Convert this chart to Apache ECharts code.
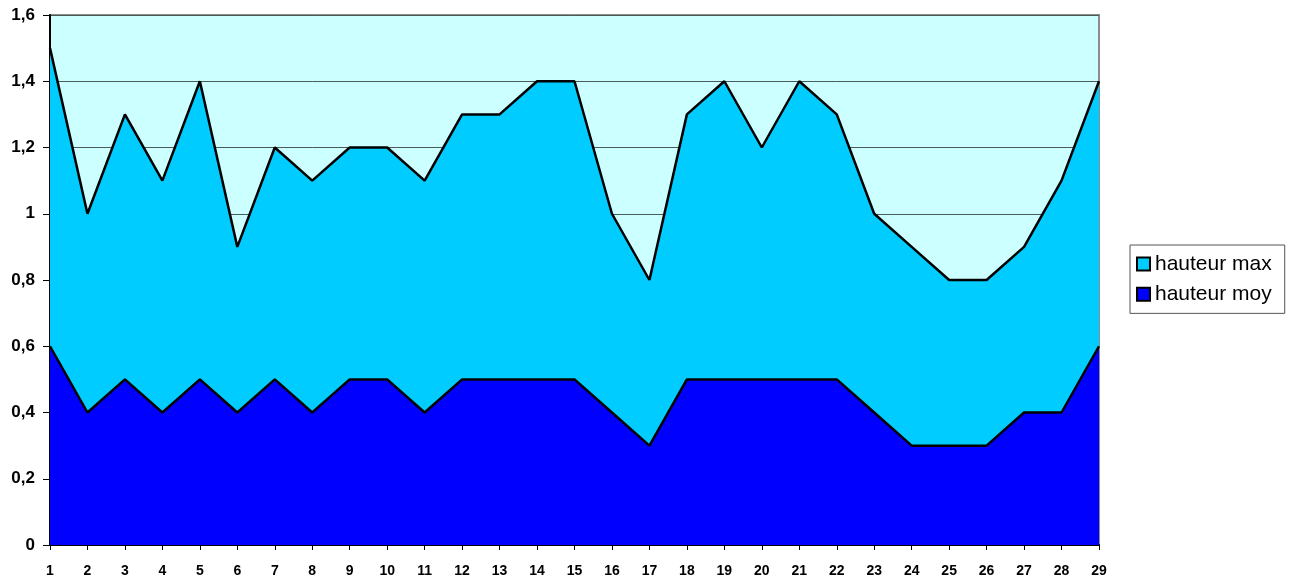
<style>body { margin: 0; }</style>
<div id="chart" style="width: 1292px; height: 576px;"></div>
<script src="https://cdn.jsdelivr.net/npm/echarts@6/dist/echarts.min.js"></script>
<script>
const days = ['1','2','3','4','5','6','7','8','9','10','11','12','13','14','15','16','17','18','19','20','21','22','23','24','25','26','27','28','29'];
const hauteurMax = [1.5,1.0,1.3,1.1,1.4,0.9,1.2,1.1,1.2,1.2,1.1,1.3,1.3,1.4,1.4,1.0,0.8,1.3,1.4,1.2,1.4,1.3,1.0,0.9,0.8,0.8,0.9,1.1,1.4];
const hauteurMoy = [0.6,0.4,0.5,0.4,0.5,0.4,0.5,0.4,0.5,0.5,0.4,0.5,0.5,0.5,0.5,0.4,0.3,0.5,0.5,0.5,0.5,0.5,0.4,0.3,0.3,0.3,0.4,0.4,0.6];

const chart = echarts.init(document.getElementById('chart'));

const option = {
  animation: false,
  backgroundColor: '#fff',
  grid: {
    left: 50, right: 193, top: 15, bottom: 31,
    outerBoundsMode: 'none',
    containLabel: false,
    show: true,
    backgroundColor: '#CCFFFF',
    borderColor: '#8c8c8c',
    borderWidth: 2
  },
  legend: {
    orient: 'vertical',
    left: 1130,
    top: 245,
    padding: [1, 13, 1, 6],
    itemGap: -6,
    itemWidth: 13,
    itemHeight: 13,
    borderColor: '#555',
    borderWidth: 1,
    backgroundColor: '#fff',
    textStyle: { fontFamily: 'Liberation Sans, Arial', fontSize: 21, color: '#000' },
    data: [
      { name: 'hauteur max', icon: 'rect', itemStyle: { color: '#00CCFF', borderColor: '#000', borderWidth: 2 } },
      { name: 'hauteur moy', icon: 'rect', itemStyle: { color: '#0000FF', borderColor: '#000', borderWidth: 2 } }
    ]
  },
  xAxis: {
    type: 'category',
    data: days,
    boundaryGap: false,
    axisLine: { lineStyle: { color: '#000', width: 2 } },
    axisTick: { show: true, alignWithLabel: true, length: 5, lineStyle: { color: '#000' } },
    axisLabel: {
      interval: 0,
      margin: 14,
      color: '#000',
      fontWeight: 'bold',
      fontSize: 14,
      fontFamily: 'Liberation Sans Narrow, Liberation Sans, Arial'
    },
    splitLine: { show: false }
  },
  yAxis: {
    type: 'value',
    min: 0,
    max: 1.6,
    interval: 0.2,
    axisLine: { show: true, lineStyle: { color: '#000', width: 2 } },
    axisTick: { show: true, length: 7, lineStyle: { color: '#000' } },
    axisLabel: {
      margin: 15,
      color: '#000',
      fontWeight: 'bold',
      fontSize: 17,
      fontFamily: 'Liberation Sans, Arial',
      formatter: function (v) { return String(Math.round(v * 10) / 10).replace('.', ','); }
    },
    splitLine: { show: true, lineStyle: { color: '#4a5a5a', width: 1 } }
  },
  series: [
    {
      name: 'hauteur max',
      type: 'line',
      data: hauteurMax,
      symbol: 'none',
      lineStyle: { color: '#000', width: 2.5 },
      itemStyle: { color: '#00CCFF' },
      areaStyle: { color: '#00CCFF', opacity: 1 },
      z: 2
    },
    {
      name: 'hauteur moy',
      type: 'line',
      data: hauteurMoy,
      symbol: 'none',
      lineStyle: { color: '#000', width: 2.5 },
      itemStyle: { color: '#0000FF' },
      areaStyle: { color: '#0000FF', opacity: 1 },
      z: 3
    }
  ]
};

chart.setOption(option);
</script>
